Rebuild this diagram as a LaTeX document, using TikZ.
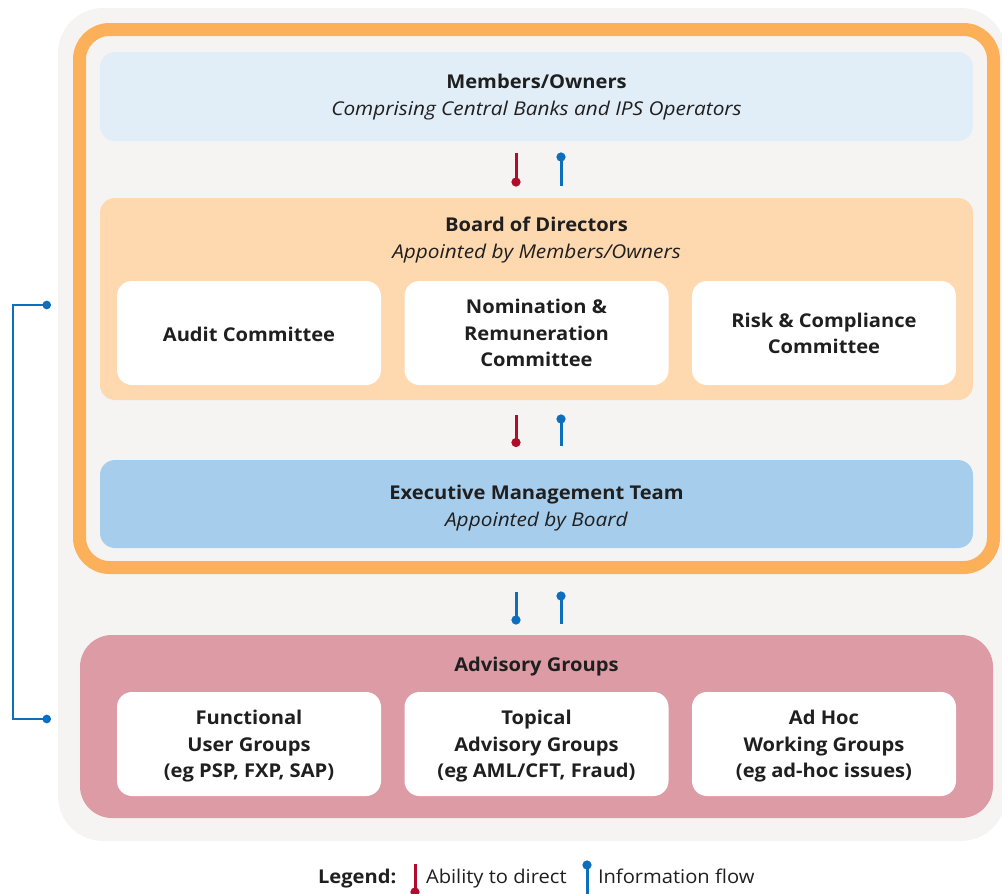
\documentclass[tikz,border=0pt]{standalone}
\usepackage{fontspec}
\setmainfont{Open Sans}[
  UprightFeatures={FakeStretch=1.06},
  BoldFeatures={FakeStretch=1.06},
  ItalicFeatures={FakeStretch=1.095},
  BoldItalicFeatures={FakeStretch=1.06}]
\usetikzlibrary{arrows.meta}
\definecolor{canvas}{HTML}{F5F4F2}
\definecolor{frameorange}{HTML}{FDB05A}
\definecolor{memberfill}{HTML}{E1EDF7}
\definecolor{boardfill}{HTML}{FED8AE}
\definecolor{execfill}{HTML}{A7CDEC}
\definecolor{advfill}{HTML}{DD9BA5}
\definecolor{dirred}{HTML}{B00C2C}
\definecolor{infoblue}{HTML}{0D6EBD}
\definecolor{ink}{HTML}{1F1F1F}
\begin{document}
\begin{tikzpicture}[x=1pt,y=-1pt,
  every node/.style={text=ink, inner sep=0pt, outer sep=0pt},
  txt/.style={align=center, font=\fontsize{19}{26.5}\selectfont},
  btxt/.style={align=center, font=\fontsize{19}{26.5}\selectfont\bfseries},
  panel/.style={rectangle, rounded corners=15pt, minimum width=873pt},
  card/.style={rectangle, rounded corners=15pt, fill=white, minimum width=264pt, minimum height=104pt},
  direct/.style={draw=dirred, line width=3pt, -{Circle[length=9pt,width=9pt]}},
  inform/.style={draw=infoblue, line width=3pt, {Circle[length=9pt,width=9pt]}-},
  informdown/.style={draw=infoblue, line width=3pt, -{Circle[length=9pt,width=9pt]}},
  bracket/.style={draw=infoblue, line width=2.7pt, {Circle[length=8.5pt,width=8.5pt]}-{Circle[length=8.5pt,width=8.5pt]}}
]
\useasboundingbox (0,0) rectangle (1002,894);

% background panel and organisation frame
\fill[canvas, rounded corners=45pt] (58,8) rectangle (1006,841);
\draw[frameorange, line width=13pt, rounded corners=30pt] (79.5,29.5) rectangle (993.5,567.5);

% members / owners
\node[panel, fill=memberfill, minimum height=89pt] (members) at (536.5,96.5) {};
\node[txt] (memberstxt) at (536.5,97) {\textbf{Members/Owners}\\\textit{Comprising Central Banks and IPS Operators}};

% board with its committees
\node[panel, fill=boardfill, minimum height=202pt] (board) at (536.5,299) {};
\node[txt] (boardtxt) at (536.5,240) {\textbf{Board of Directors}\\\textit{Appointed by Members/Owners}};
\node[card] (audit) at (249,333) {};
\node[card] (nomination) at (536.5,333) {};
\node[card] (risk) at (824,333) {};
\node[btxt] at ([yshift=-1pt]audit.center) {Audit Committee};
\node[btxt] at (nomination) {Nomination \&\\Remuneration\\Committee};
\node[btxt] at ([yshift=-0.5pt]risk.center) {Risk \& Compliance\\Committee};

% executive management
\node[panel, fill=execfill, minimum height=88pt] (exec) at (536.5,504) {};
\node[txt] (exectxt) at (536.5,508) {\textbf{Executive Management Team}\\\textit{Appointed by Board}};

% advisory groups
\fill[advfill, rounded corners=32pt] (80,635) rectangle (993,818);
\node[btxt] (advtxt) at (536.5,667) {Advisory Groups};
\node[card] (functional) at (249,744) {};
\node[card] (topical) at (536.5,744) {};
\node[card] (adhoc) at (824,744) {};
\node[btxt] at ([yshift=-2.5pt]functional.center) {Functional\\User Groups\\(eg PSP, FXP, SAP)};
\node[btxt] at ([yshift=-2.5pt]topical.center) {Topical\\Advisory Groups\\(eg AML/CFT, Fraud)};
\node[btxt] at ([yshift=-2.5pt]adhoc.center) {Ad Hoc\\Working Groups\\(eg ad-hoc issues)};

% relationship markers between the layers
\coordinate (d1a) at (516,153);   \coordinate (d1b) at (516,186.5);
\coordinate (i1a) at (561,152.5); \coordinate (i1b) at (561,186);
\coordinate (d2a) at (516,415);   \coordinate (d2b) at (516,447);
\coordinate (i2a) at (561,414.5); \coordinate (i2b) at (561,446);
\coordinate (i3a) at (516,592);   \coordinate (i3b) at (516,624.5);
\coordinate (i4a) at (561,591.5); \coordinate (i4b) at (561,624);
\draw[direct] (d1a) -- (d1b);
\draw[inform] (i1a) -- (i1b);
\draw[direct] (d2a) -- (d2b);
\draw[inform] (i2a) -- (i2b);
\draw[informdown] (i3a) -- (i3b);
\draw[inform] (i4a) -- (i4b);

% information loop from advisory groups back to the board
\coordinate (lb1) at (51,305);
\coordinate (lb2) at (51,719);
\draw[bracket] (lb1) -- (13,305) -- (13,719) -- (lb2);

% legend
\node[anchor=base west, font=\fontsize{19}{20}\selectfont\bfseries] (legend) at (318,883.5) {Legend:};
\coordinate (lga) at (415,864); \coordinate (lgb) at (415,896.5);
\draw[direct] (lga) -- (lgb);
\node[anchor=base west, font=\fontsize{19}{20}\selectfont] (lgdirect) at (426,883.5) {Ability to direct};
\coordinate (lgc) at (587,860.5); \coordinate (lgd) at (587,895);
\draw[inform] (lgc) -- (lgd);
\node[anchor=base west, font=\fontsize{19}{20}\selectfont] (lginfo) at (598,883.5) {Information flow};
\end{tikzpicture}
\end{document}
